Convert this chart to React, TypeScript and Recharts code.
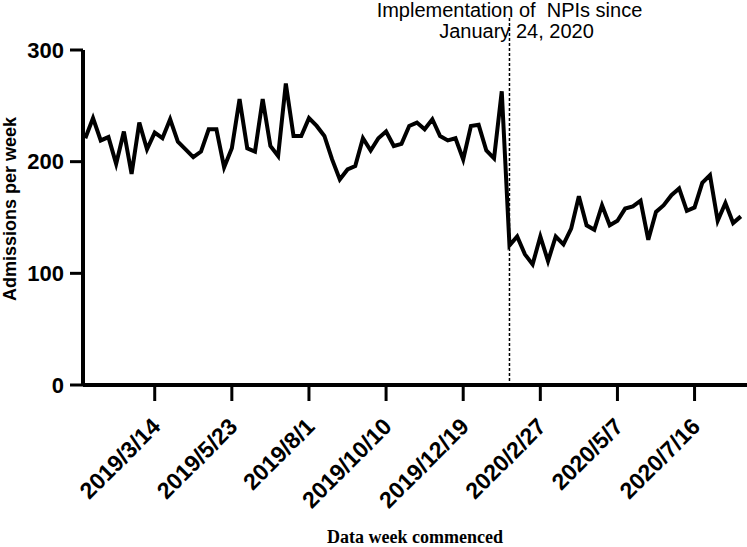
import React from "react";
import { LineChart, Line, XAxis, YAxis, ReferenceLine, Label } from "recharts";

// weekly admissions
const admissions = [
  221, 239, 219, 222, 198, 227, 189, 235, 211, 226,
  221, 238, 218, 211, 204, 209, 229, 229, 195, 212,
  256, 212, 209, 256, 214, 205, 270, 223, 223, 239,
  232, 223, 202, 184, 193, 196, 221, 210, 221, 227,
  214, 216, 232, 235, 229, 238, 223, 219, 221, 202,
  232, 233, 210, 203, 263, 125, 133, 117, 108, 133,
  111, 133, 126, 140, 169, 143, 139, 161, 143, 147,
  158, 160, 165, 130, 155, 161, 170, 176, 156, 159,
  181, 188, 147, 163, 145, 151,
];

const tickWeeks = [9, 19, 29, 39, 49, 59, 69, 79];
const tickLabels = [
  "2019/3/14",
  "2019/5/23",
  "2019/8/1",
  "2019/10/10",
  "2019/12/19",
  "2020/2/27",
  "2020/5/7",
  "2020/7/16",
];
const yTicks = [0, 100, 200, 300];
const npiWeek = 55;

const data = admissions.map((v, i) => ({ week: i, admissions: v }));

const sans = "'Liberation Sans', Arial, sans-serif";

function XTick({ x, y, payload }: any) {
  const idx = tickWeeks.indexOf(payload.value);
  const ax = x + 7;
  const ay = y + 27;
  return (
    <text
      x={ax}
      y={ay}
      transform={`rotate(-45 ${ax} ${ay})`}
      textAnchor="end"
      fontFamily={sans}
      fontWeight="bold"
      fontSize={23}
      fill="#000"
    >
      {tickLabels[idx]}
    </text>
  );
}

function NpiLine(props: any) {
  const { x1, y1, x2, y2 } = props;
  const top = Math.min(y1, y2);
  const bottom = Math.max(y1, y2);
  return (
    <line
      x1={x1}
      x2={x2}
      y1={top - 32}
      y2={bottom}
      stroke="#000"
      strokeWidth={1.5}
      strokeDasharray="3 2"
    />
  );
}

function NpiLabel({ viewBox }: any) {
  const { x, y } = viewBox;
  return (
    <g fontFamily={sans} fontSize={20} fill="#000">
      <text x={x} y={y - 33} textAnchor="middle" style={{ whiteSpace: "pre" }}>
        {"Implementation of  NPIs since"}
      </text>
      <text x={x + 7} y={y - 12} textAnchor="middle">
        January 24, 2020
      </text>
    </g>
  );
}

export default function App() {
  return (
    <div style={{ position: "absolute", left: 0, top: 0, width: 747, height: 547, background: "#fff" }}>
      <LineChart
        width={747}
        height={547}
        data={data}
        margin={{ top: 50, right: 0, left: 8, bottom: 0 }}
      >
        <XAxis
          type="number"
          dataKey="week"
          domain={[-0.3, 85.8]}
          allowDataOverflow
          ticks={tickWeeks}
          tick={<XTick />}
          height={162}
          tickSize={16}
          tickMargin={0}
          axisLine={{ stroke: "#000", strokeWidth: 4 }}
          tickLine={{ stroke: "#000", strokeWidth: 3 }}
        >
          <Label
            content={({ viewBox }: any) => (
              <text
                x={viewBox.x + viewBox.width / 2}
                y={543}
                textAnchor="middle"
                fontFamily="'Liberation Serif', 'Times New Roman', serif"
                fontWeight="bold"
                fontSize={18}
                fill="#000"
              >
                Data week commenced
              </text>
            )}
          />
        </XAxis>
        <YAxis
          domain={[0, 300]}
          ticks={yTicks}
          width={75}
          tickSize={13}
          tickMargin={6}
          axisLine={{ stroke: "#000", strokeWidth: 4 }}
          tickLine={{ stroke: "#000", strokeWidth: 3 }}
          tick={{ fill: "#000", fontFamily: sans, fontWeight: "bold", fontSize: 22 }}
        >
          <Label
            content={() => (
              <text
                x={16}
                y={209}
                transform="rotate(-90 16 209)"
                textAnchor="middle"
                fontFamily={sans}
                fontWeight="bold"
                fontSize={18}
                fill="#000"
              >
                Admissions per week
              </text>
            )}
          />
        </YAxis>
        <ReferenceLine
          x={npiWeek}
          shape={<NpiLine />}
          label={<NpiLabel />}
          ifOverflow="visible"
        />
        <Line
          type="linear"
          dataKey="admissions"
          stroke="#000"
          strokeWidth={4}
          strokeLinejoin="miter"
          dot={false}
          isAnimationActive={false}
        />
      </LineChart>
    </div>
  );
}
